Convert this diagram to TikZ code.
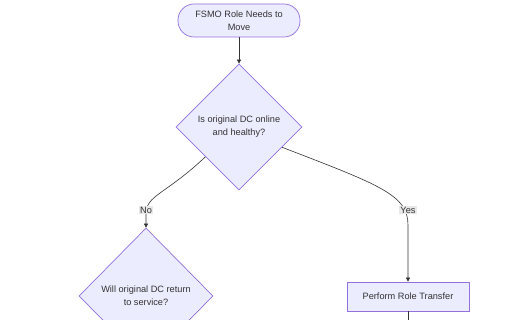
\documentclass[tikz,border=0pt]{standalone}
\usepackage{fontspec}
\setmainfont{Liberation Sans}
\usetikzlibrary{shapes.geometric,arrows.meta}
\definecolor{nodefill}{HTML}{ECECFF}
\definecolor{nodeline}{HTML}{9370DB}
\definecolor{txt}{HTML}{333333}
\definecolor{lblbg}{HTML}{E8E8E8}
\begin{document}
\begin{tikzpicture}[x=1pt,y=-1pt,
  every node/.style={font=\fontsize{9.2}{13}\selectfont, text=txt},
  terminal/.style={draw=nodeline, fill=nodefill, line width=0.7pt, rounded corners=16pt, minimum width=122pt, minimum height=33pt, align=center, inner sep=0pt},
  decision/.style={diamond, draw=nodeline, fill=nodefill, line width=0.7pt, aspect=1, inner sep=0pt, align=center},
  process/.style={draw=nodeline, fill=nodefill, line width=0.7pt, minimum width=122pt, minimum height=29pt, inner sep=0pt},
  edge/.style={draw=txt, line width=0.6pt, -{Triangle[length=4pt,width=4pt]}},
  plainedge/.style={draw=txt, line width=0.6pt},
  elabel/.style={fill=lblbg, inner sep=1pt, font=\fontsize{9.2}{10}\selectfont}
]
\useasboundingbox (0,0) rectangle (512,320);
\clip (0,0) rectangle (512,320);
\fill[white] (0,0) rectangle (512,320);

\node[terminal] (start) at (239,20.5) {FSMO Role Needs to\\Move};
\node[decision, minimum width=126pt, minimum height=126pt] (q1) at (239,127) {Is original DC online\\and healthy?};
\node[decision, minimum width=134pt, minimum height=136pt] (q2) at (146,296) {Will original DC return\\to service?};
\node[process] (transfer) at (408,296.5) {Perform Role Transfer};
\coordinate (bot) at (408,325);

\path (q1.west) -- (q1.south) coordinate[pos=0.47] (q1sw);
\path (q1.east) -- (q1.south) coordinate[pos=0.32] (q1se);

\draw[edge] (start) -- (q1);
\draw[edge] (q1sw) .. controls (165,195) and (146,195) .. (146,214) -- (q2.north);
\node[elabel] (lno) at (146,210) {No};
\draw[edge] (q1se) .. controls (380,185) and (408,195) .. (408,225) -- (transfer.north);
\node[elabel] (lyes) at (408,210) {Yes};
\draw[plainedge] (transfer.south) -- (bot);
\end{tikzpicture}
\end{document}
